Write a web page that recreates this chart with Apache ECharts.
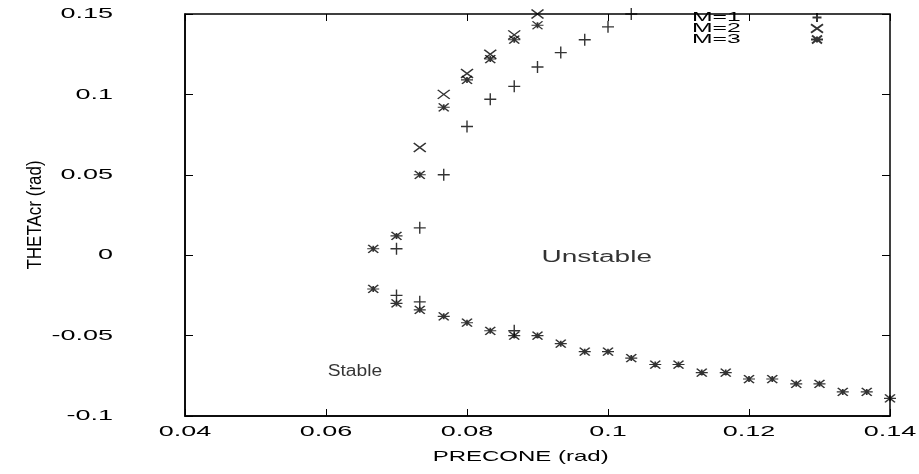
<!DOCTYPE html>
<html lang="en">
<head>
    <meta charset="UTF-8">
    <title>THETAcr vs PRECONE</title>
    <script src="https://cdn.jsdelivr.net/npm/echarts@6/dist/echarts.min.js"></script>
    <style>
        html, body { margin: 0; padding: 0; background: #fff; }
        #main { width: 919px; height: 474px; }
    </style>
</head>
<body>
<div id="main"></div>
<script>
    // values (PRECONE rad, THETAcr rad)
    var m1X = [0.0700, 0.0733, 0.0767, 0.0800, 0.0833, 0.0867, 0.0900, 0.0933, 0.0967, 0.1000, 0.1033,
               0.0700, 0.0733, 0.0867];
    var m1Y = [0.004, 0.017, 0.050, 0.080, 0.097, 0.105, 0.117, 0.126, 0.134, 0.142, 0.150,
               -0.025, -0.029, -0.047];

    var m2X = [0.0733, 0.0767, 0.0800, 0.0833, 0.0867, 0.0900];
    var m2Y = [0.067, 0.100, 0.113, 0.125, 0.137, 0.150];

    var m3X = [0.0667, 0.0700, 0.0733, 0.0767, 0.0800, 0.0833, 0.0867, 0.0900,
               0.0667, 0.0700, 0.0733, 0.0767, 0.0800, 0.0833, 0.0867, 0.0900, 0.0933, 0.0967,
               0.1000, 0.1033, 0.1067, 0.1100, 0.1133, 0.1167, 0.1200, 0.1233, 0.1267, 0.1300,
               0.1333, 0.1367, 0.1400];
    var m3Y = [0.004, 0.012, 0.050, 0.092, 0.109, 0.122, 0.134, 0.143,
               -0.021, -0.030, -0.034, -0.038, -0.042, -0.047, -0.050, -0.050, -0.055, -0.060,
               -0.060, -0.064, -0.068, -0.068, -0.073, -0.073, -0.077, -0.077, -0.080, -0.080,
               -0.085, -0.085, -0.089];

    var noteText = ['Unstable', 'Stable'];
    var noteX = [0.0984, 0.0641];
    var noteY = [-0.0015, -0.0725];

    function zip(xs, ys) {
        return xs.map(function (x, i) { return [x, ys[i]]; });
    }

    var plusPath = 'path://M0,5L10,5M5,0L5,10';
    var crossPath = 'path://M0,0L10,7M0,7L10,0';
    var starPath = 'path://M0,4L12,4M1,0L11,8M1,8L11,0M6,1L6,7';

    var font = 'Liberation Sans, Arial, sans-serif';

    // the scanned plot uses a very wide lettering, so texts get stretched sideways
    var textStretch = {
        'THETAcr (rad)': 0.85,
        'PRECONE (rad)': 1.6,
        'Unstable': 1.75,
        'Stable': 1.2,
        'M=1': 1.9, 'M=2': 1.9, 'M=3': 1.9
    };
    var tickStretch = 1.8;

    function markSeries(name, data, symbol, size) {
        return {
            name: name,
            type: 'scatter',
            data: data,
            symbol: symbol,
            symbolSize: size,
            clip: false,
            itemStyle: { color: 'transparent', borderColor: '#000', borderWidth: 1.4 }
        };
    }

    var myChart = echarts.init(document.getElementById('main'));
    var option = {
        animation: false,
        backgroundColor: '#fff',
        grid: { left: 185, right: 29, top: 14, bottom: 58, show: true, borderColor: '#000', borderWidth: 1.5 },
        legend: {
            data: ['M=1', 'M=2', 'M=3'],
            orient: 'vertical',
            left: 701,
            top: 6,
            align: 'right',
            itemGap: -2,
            itemWidth: 12,
            itemHeight: 9,
            textStyle: {
                fontFamily: font, fontSize: 13, color: '#000',
                width: 68, padding: [0, 32, 0, 0], lineHeight: 12
            }
        },
        xAxis: [{
            type: 'value', min: 0.04, max: 0.14, interval: 0.02,
            name: 'PRECONE (rad)', nameLocation: 'middle', nameGap: 33,
            nameTextStyle: { fontFamily: font, fontSize: 15, color: '#000', padding: [0, 21, 0, 0] },
            axisLine: { onZero: false, lineStyle: { color: '#000', width: 1.5 } },
            axisTick: { inside: true, length: 7, lineStyle: { color: '#000' } },
            axisLabel: { fontFamily: font, fontSize: 15, color: '#000', margin: 8 },
            splitLine: { show: false }
        }, {
            type: 'value', position: 'top', min: 0.04, max: 0.14, interval: 0.02,
            axisLine: { show: false, onZero: false },
            axisTick: { inside: true, length: 7, lineStyle: { color: '#000' } },
            axisLabel: { show: false },
            splitLine: { show: false }
        }],
        yAxis: [{
            type: 'value', min: -0.1, max: 0.15, interval: 0.05,
            name: 'THETAcr (rad)', nameLocation: 'middle', nameGap: 140,
            nameTextStyle: { fontFamily: font, fontSize: 20, color: '#000' },
            axisLine: { onZero: false, lineStyle: { color: '#000', width: 1.5 } },
            axisTick: { inside: true, length: 8, lineStyle: { color: '#000' } },
            axisLabel: { fontFamily: font, fontSize: 15, color: '#000', margin: 72 },
            splitLine: { show: false }
        }, {
            type: 'value', position: 'right', min: -0.1, max: 0.15, interval: 0.05,
            axisLine: { show: false, onZero: false },
            axisTick: { inside: true, length: 8, lineStyle: { color: '#000' } },
            axisLabel: { show: false },
            splitLine: { show: false }
        }],
        series: [
            markSeries('M=1', zip(m1X, m1Y), plusPath, [12, 12]),
            markSeries('M=2', zip(m2X, m2Y), crossPath, [12, 9]),
            markSeries('M=3', zip(m3X, m3Y), starPath, [12, 8]),
            {
                name: 'notes',
                type: 'scatter',
                silent: true,
                symbolSize: 0,
                data: noteText.map(function (t, i) { return { name: t, value: [noteX[i], noteY[i]] }; }),
                label: {
                    show: true, position: 'inside', formatter: '{b}',
                    fontFamily: font, fontSize: 16, color: '#000'
                }
            }
        ]
    };
    myChart.setOption(option);

    function stretchText(t) {
        var s = textStretch[t.style.text];
        t.scaleX = s == null ? tickStretch : s;
        t.markRedraw();
    }

    function stretchAll(chart) {
        var zr = chart.getZr();
        function visit(el) {
            if (el.type === 'text') stretchText(el);
            var tc = el.getTextContent && el.getTextContent();
            if (tc) stretchText(tc);
            if (el.isGroup) el.childrenRef().forEach(visit);
        }
        zr.storage.getRoots().forEach(visit);
        zr.refresh();
    }
    stretchAll(myChart);
</script>
</body>
</html>
